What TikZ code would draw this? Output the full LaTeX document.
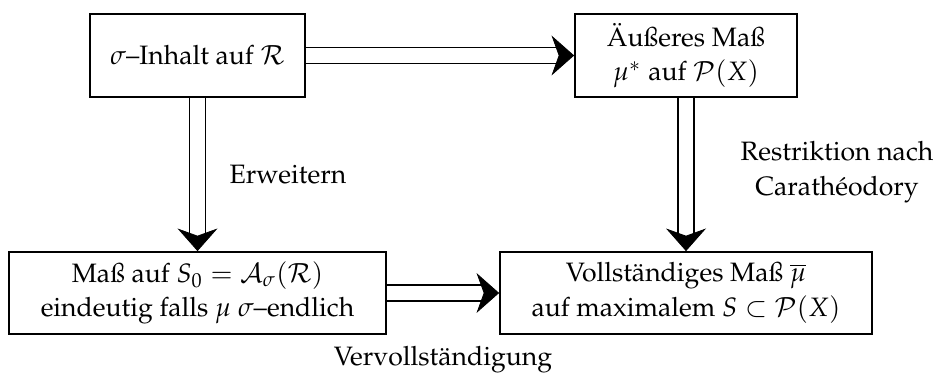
\documentclass[tikz,border=0pt]{standalone}
\usepackage[T1]{fontenc}
\usepackage{mathpazo}
\usetikzlibrary{arrows.meta}
\begin{document}
\begin{tikzpicture}[x=0.376pt,y=-0.376pt,
  box/.style={draw, line width=0.65pt, inner sep=0pt, align=center},
  dbl/.style={double, double distance=5.3pt, line width=0.7pt, shorten >=6pt},
  head/.style={draw=white, line width=0.3pt, shorten <=0.7pt, -{Stealth[black, length=8.5pt, width=15pt, inset=2.7pt]}},
  lbl/.style={inner sep=0pt, align=center}]
\useasboundingbox (0,0) rectangle (933,379);
\node[box, minimum width=215*0.376pt, minimum height=83*0.376pt] (b1) at (197.5,55.5) {$\sigma$--Inhalt auf $\mathcal{R}$};
\node[box, minimum width=222*0.376pt, minimum height=83*0.376pt] (b2) at (686,55.5) {\"Au\ss eres Ma\ss\\[1pt] $\mu^*$ auf $\mathcal{P}(X)$};
\node[box, minimum width=377*0.376pt, minimum height=82*0.376pt] (b3) at (197.5,293) {Ma\ss{} auf $S_0=\mathcal{A}_\sigma(\mathcal{R})$\\[1pt] eindeutig falls $\mu$ $\sigma$--endlich};
\node[box, minimum width=372*0.376pt, minimum height=82*0.376pt] (b4) at (686,293) {Vollst\"andiges Ma\ss{} $\overline{\mu}$\\[1pt] auf maximalem $S\subset\mathcal{P}(X)$};
\foreach \a/\b in {b1/b2, b1/b3, b2/b4, b3/b4} {
  \draw[dbl] (\a) -- (\b);
  \draw[head] (\a) -- (\b);
}
\node[lbl, anchor=west] (l1) at (229,175) {Erweitern};
\node[lbl] (l2) at (837,172) {Restriktion nach\\[1pt]Carath\'eodory};
\node[lbl] (l3) at (443,360) {Vervollst\"andigung};
\end{tikzpicture}
\end{document}
